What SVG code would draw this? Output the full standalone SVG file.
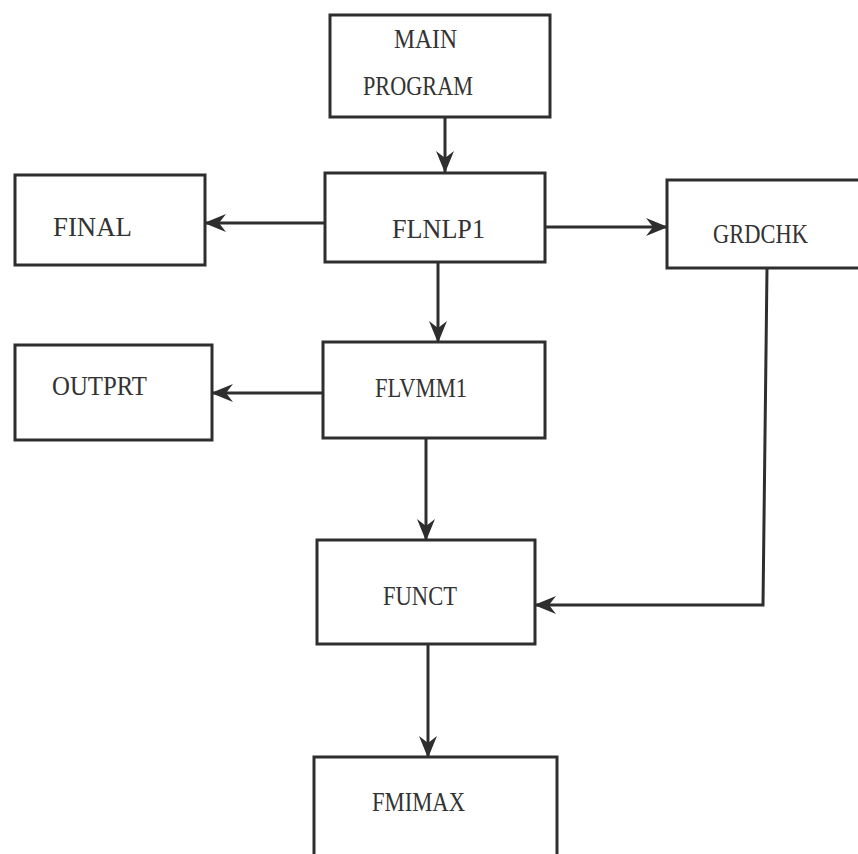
<svg xmlns="http://www.w3.org/2000/svg" width="858" height="854" viewBox="0 0 858 854">
<defs>
<style>
.box{fill:none;stroke:#2e2e2e;stroke-width:3}
.lbl{font-family:"Liberation Serif","DejaVu Serif",serif;font-size:27px;fill:#333}
.con{fill:none;stroke:#2e2e2e;stroke-width:3}
</style>
<marker id="arr" viewBox="0 0 22 18" markerWidth="22" markerHeight="18" refX="21" refY="9" orient="auto" markerUnits="userSpaceOnUse">
<path d="M0,0 L22,9 L0,18 L7,9 z" fill="#2e2e2e"/>
</marker>
</defs>
<rect width="858" height="854" fill="#fff"/>
<g id="connectors">
<path class="con" d="M445,117 V172" marker-end="url(#arr)"/>
<path class="con" d="M325,223 H205" marker-end="url(#arr)"/>
<path class="con" d="M545,227 H667" marker-end="url(#arr)"/>
<path class="con" d="M438,262 V342" marker-end="url(#arr)"/>
<path class="con" d="M323,393 H212" marker-end="url(#arr)"/>
<path class="con" d="M426,438 V540" marker-end="url(#arr)"/>
<path class="con" d="M767,268 L763,605 H535" marker-end="url(#arr)"/>
<path class="con" d="M428,644 V757" marker-end="url(#arr)"/>
</g>
<g id="main">
<rect class="box" x="330" y="15" width="220" height="102"/>
<text class="lbl" x="394" y="48" textLength="63" lengthAdjust="spacingAndGlyphs">MAIN</text>
<text class="lbl" x="363" y="95" textLength="110" lengthAdjust="spacingAndGlyphs">PROGRAM</text>
</g>
<g id="final">
<rect class="box" x="15" y="175" width="190" height="90"/>
<text class="lbl" x="53" y="236" textLength="79" lengthAdjust="spacingAndGlyphs">FINAL</text>
</g>
<g id="flnlp1">
<rect class="box" x="325" y="173" width="220" height="89"/>
<text class="lbl" x="392" y="238" textLength="93" lengthAdjust="spacingAndGlyphs">FLNLP1</text>
</g>
<g id="grdchk">
<rect class="box" x="667" y="180" width="210" height="88"/>
<text class="lbl" x="713" y="243" textLength="95" lengthAdjust="spacingAndGlyphs">GRDCHK</text>
</g>
<g id="outprt">
<rect class="box" x="15" y="345" width="197" height="95"/>
<text class="lbl" x="52" y="395" textLength="95" lengthAdjust="spacingAndGlyphs">OUTPRT</text>
</g>
<g id="flvmm1">
<rect class="box" x="323" y="342" width="222" height="96"/>
<text class="lbl" x="375" y="397" textLength="92" lengthAdjust="spacingAndGlyphs">FLVMM1</text>
</g>
<g id="funct">
<rect class="box" x="317" y="540" width="218" height="104"/>
<text class="lbl" x="383" y="605" textLength="74" lengthAdjust="spacingAndGlyphs">FUNCT</text>
</g>
<g id="fmimax">
<rect class="box" x="314" y="757" width="243" height="120"/>
<text class="lbl" x="372" y="811" textLength="93" lengthAdjust="spacingAndGlyphs">FMIMAX</text>
</g>
</svg>
